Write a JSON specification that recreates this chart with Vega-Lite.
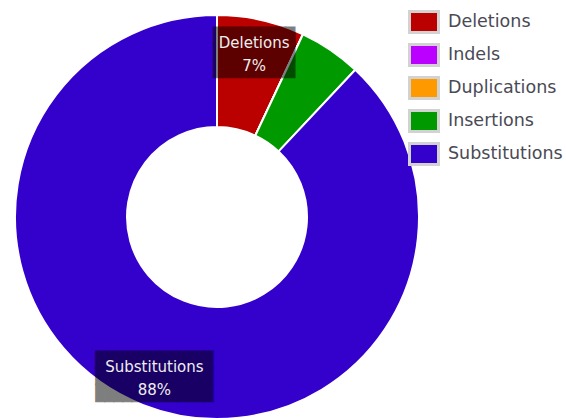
{
  "$schema": "https://vega.github.io/schema/vega-lite/v6.json",
  "width": 434,
  "height": 434,
  "padding": 0,
  "autosize": {"type": "pad"},
  "background": "white",
  "config": {"view": {"stroke": null}},
  "data": {
    "values": [
      {"category": "Deletions", "value": 7},
      {"category": "Indels", "value": 0},
      {"category": "Duplications", "value": 0},
      {"category": "Insertions", "value": 5},
      {"category": "Substitutions", "value": 88}
    ]
  },
  "transform": [
    {"calculate": "datum.value >= 6 ? [datum.category, datum.value + '%'] : ''", "as": "label"},
    {"calculate": "datum.value >= 6 ? [pad('', length(datum.category), '█'), pad('', length(datum.category), '█'), pad('', length(datum.category), '█')] : ''", "as": "box"}
  ],
  "encoding": {
    "theta": {"field": "value", "type": "quantitative", "stack": true},
    "order": {"field": "category", "type": "nominal", "sort": "ascending"}
  },
  "layer": [
    {
      "mark": {"type": "arc", "innerRadius": 90, "outerRadius": 202, "stroke": "white", "strokeWidth": 2},
      "encoding": {
        "color": {
          "field": "category",
          "type": "nominal",
          "scale": {
            "domain": ["Deletions", "Indels", "Duplications", "Insertions", "Substitutions"],
            "range": ["#bb0000", "#bb00ff", "#ff9900", "#009900", "#3300cc"]
          },
          "legend": {
            "orient": "none",
            "legendX": 408,
            "legendY": 6,
            "title": null,
            "symbolType": "M-1,-0.724H1V0.724H-1Z",
            "symbolSize": 841,
            "symbolStrokeColor": "#d2d2d2",
            "symbolStrokeWidth": 3,
            "symbolOpacity": 1,
            "labelFontSize": 17.5,
            "labelFont": "DejaVu Sans",
            "labelColor": "#4a4a55",
            "rowPadding": -1,
            "labelOffset": 8,
            "padding": 0
          }
        }
      }
    },
    {
      "mark": {"type": "text", "radius": 170, "dy": -15.5, "font": "DejaVu Sans Mono", "fontSize": 15, "lineHeight": 16.5, "baseline": "middle", "align": "center", "opacity": 0.5, "stroke": "black", "strokeWidth": 1},
      "encoding": {
        "detail": {"field": "category", "type": "nominal"},
        "text": {"field": "box", "type": "nominal"},
        "color": {"value": "black"}
      }
    },
    {
      "mark": {"type": "text", "radius": 170, "dy": -8.5, "font": "DejaVu Sans", "fontSize": 15, "lineHeight": 23, "baseline": "middle", "align": "center"},
      "encoding": {
        "detail": {"field": "category", "type": "nominal"},
        "text": {"field": "label", "type": "nominal"},
        "color": {"value": "#eeeeee"}
      }
    }
  ]
}
